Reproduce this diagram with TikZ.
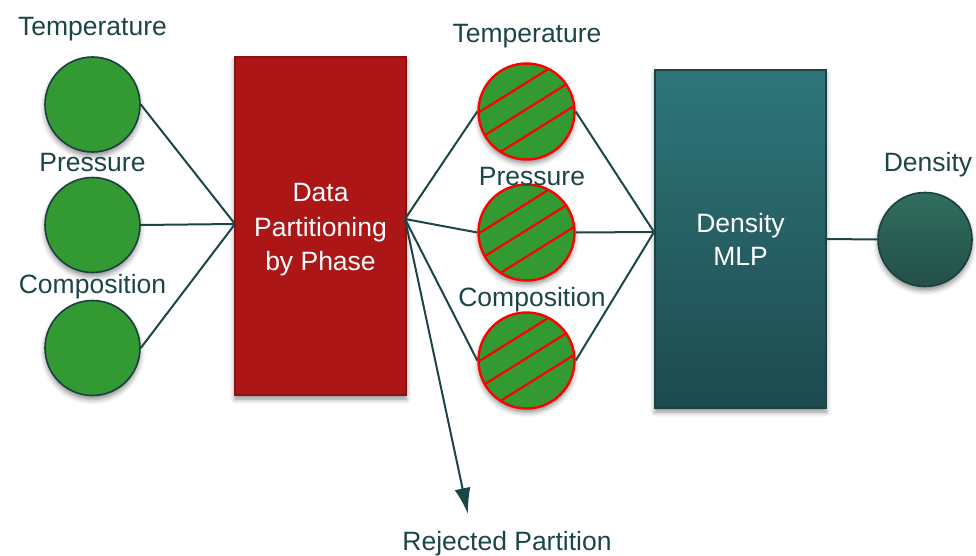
\documentclass[tikz,border=0pt]{standalone}
\usepackage{fontspec}
\setmainfont{Liberation Sans}
\usetikzlibrary{arrows.meta,shadows.blur}

\definecolor{ink}{HTML}{1C4547}
\definecolor{ring}{HTML}{1B3F40}
\definecolor{featgreen}{HTML}{339933}
\definecolor{phasered}{HTML}{AD1616}
\definecolor{phaseedge}{HTML}{8C1212}
\definecolor{mlptop}{HTML}{2E767A}
\definecolor{mlpbot}{HTML}{1E4A4E}
\definecolor{mlpedge}{HTML}{1C4245}
\definecolor{outtop}{HTML}{306E5E}
\definecolor{outbot}{HTML}{234F48}

\tikzset{
  softshadow/.style={blur shadow={shadow xshift=0pt, shadow yshift=-4pt,
      shadow blur radius=5pt, shadow opacity=45}},
  lbl/.style={font=\fontsize{26.5}{32}\selectfont, text=ink, anchor=base, inner sep=0pt},
  boxtxt/.style={font=\fontsize{26.5}{32}\selectfont, text=white, anchor=base, inner sep=0pt},
  feature/.style={circle, minimum size=95pt, inner sep=0pt, fill=featgreen,
      draw=ring, line width=1.6pt, softshadow},
  filtered/.style={circle, minimum size=96pt, inner sep=0pt, fill=featgreen,
      draw=red, line width=2.4pt, softshadow,
      path picture={
        \foreach \d in {24.5,2,-20.5}
          \draw[red, line width=2.2pt]
            ([shift={(122:\d pt)}]path picture bounding box.center)
            ++(212:70pt) -- ++(32:140pt);
      }},
  block/.style={rectangle, minimum width=171pt, minimum height=338pt,
      inner sep=0pt, line width=1.5pt, softshadow},
  wire/.style={draw=ink, line width=2pt},
}

\begin{document}
\begin{tikzpicture}[x=1pt, y=-1pt]
  \useasboundingbox (0,0) rectangle (976,556);

  % raw input features
  \node[feature] (t1) at (92.5,104.5) {};
  \node[feature] (p1) at (92.5,225) {};
  \node[feature] (c1) at (92.5,348) {};
  \node[lbl] (t1l) at (92.5,36) {Temperature};
  \node[lbl] (p1l) at (92.5,171.5) {Pressure};
  \node[lbl] (c1l) at (92.5,293.5) {Composition};

  % phase partitioning block
  \node[block, fill=phasered, draw=phaseedge] (part) at (320.5,226) {};
  \node[boxtxt] (partl1) at (320.5,201.5) {Data};
  \node[boxtxt] (partl2) at (320.5,236.5) {Partitioning};
  \node[boxtxt] (partl3) at (320.5,270.5) {by Phase};
  \coordinate (partin) at (235,224);
  \coordinate (partout) at (405,219);

  % partitioned features
  \node[filtered] (t2) at (526.5,111.5) {};
  \node[filtered] (p2) at (526.5,232.5) {};
  \node[filtered] (c2) at (526.5,360.5) {};
  \node[lbl] (t2l) at (527,42.5) {Temperature};
  \node[lbl] (p2l) at (532,185.5) {Pressure};
  \node[lbl] (c2l) at (532,306.5) {Composition};

  % regression network
  \node[block, top color=mlptop, bottom color=mlpbot, draw=mlpedge] (mlp) at (740.5,239) {};
  \node[boxtxt] (mlpl1) at (740.5,232) {Density};
  \node[boxtxt] (mlpl2) at (740.5,265) {MLP};
  \coordinate (mlpin) at (654,232);

  % output
  \node[circle, minimum size=94pt, inner sep=0pt, top color=outtop, bottom color=outbot,
        draw=ring, line width=1.6pt, softshadow] (dens) at (925,239.5) {};
  \node[lbl] (densl) at (928,171.5) {Density};

  % rejected branch
  \coordinate (rej) at (468,514);
  \node[lbl] (rejl) at (507,550.5) {Rejected Partition};

  % connectors
  \draw[wire] (t1.east) -- (partin);
  \draw[wire] (p1.east) -- (partin);
  \draw[wire] (c1.east) -- (partin);
  \draw[wire] (partout) -- (t2.west);
  \draw[wire] (partout) -- (p2.west);
  \draw[wire] (partout) -- (c2.west);
  \draw[wire, -{Latex[length=26pt, width=16pt]}] (partout) -- (rej);
  \draw[wire] (t2.east) -- (mlpin);
  \draw[wire] (p2.east) -- (mlpin);
  \draw[wire] (c2.east) -- (mlpin);
  \draw[wire] (mlp.east) -- (dens.west);
\end{tikzpicture}
\end{document}
